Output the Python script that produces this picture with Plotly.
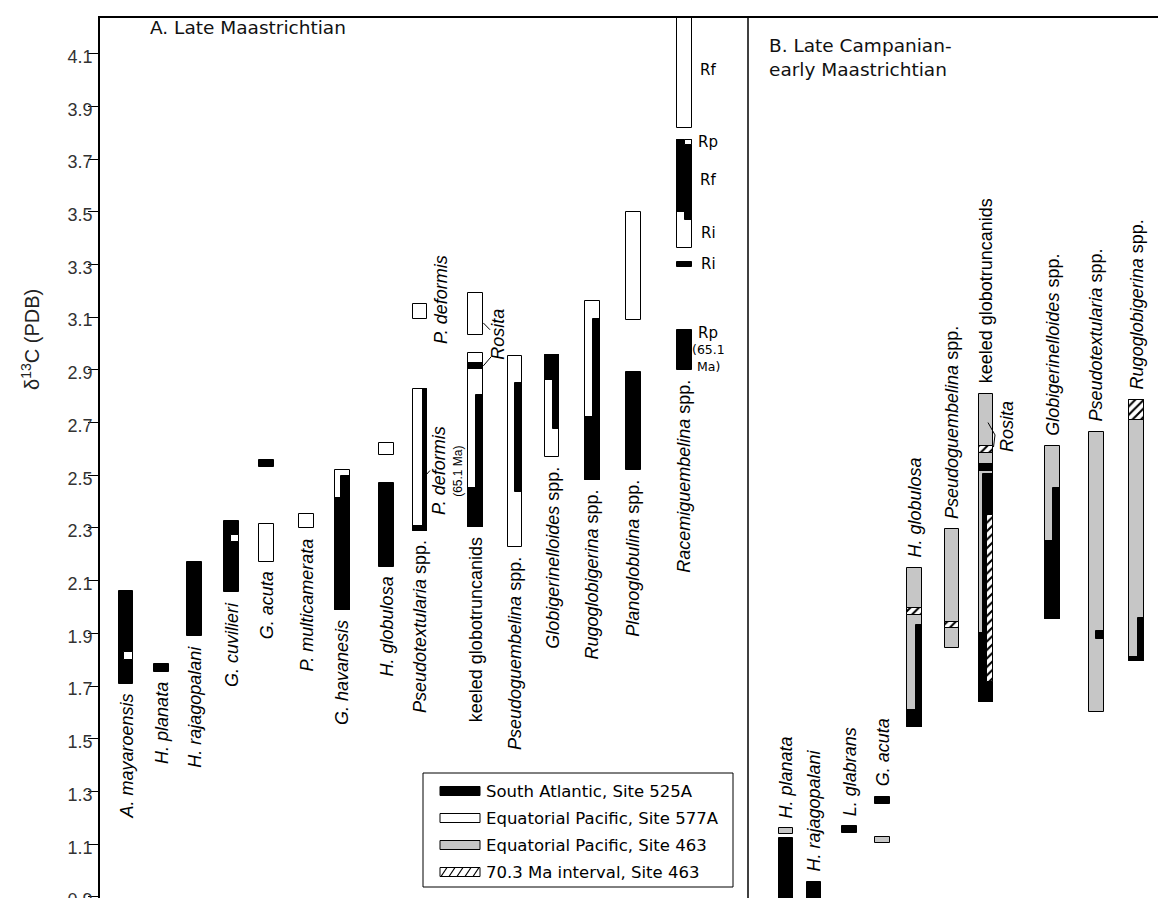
import plotly.graph_objects as go

# ---------------- data ----------------
# Panel A (Late Maastrichtian) taxa, left to right
taxa_A = ["<i>A. mayaroensis</i>", "<i>H. planata</i>", "<i>H. rajagopalani</i>", "<i>G. cuvilieri</i>",
          "<i>G. acuta</i>", "<i>P. multicamerata</i>", "<i>G. havanesis</i>", "<i>H. globulosa</i>",
          "<i>Pseudotextularia</i> spp.", "keeled globotruncanids", "<i>Pseudoguembelina</i> spp.",
          "<i>Globigerinelloides</i> spp.", "<i>Rugoglobigerina</i> spp.", "<i>Planoglobulina</i> spp.",
          "<i>Racemiguembelina</i> spp."]
# Panel B (Late Campanian - early Maastrichtian) taxa
taxa_B = ["<i>H. planata</i>", "<i>H. rajagopalani</i>", "<i>L. glabrans</i>", "<i>G. acuta</i>",
          "<i>H. globulosa</i>", "<i>Pseudoguembelina</i> spp.", "keeled globotruncanids",
          "<i>Globigerinelloides</i> spp.", "<i>Pseudotextularia</i> spp.", "<i>Rugoglobigerina</i> spp."]

# column slot positions along the horizontal
slot_A = [126, 161.3, 194.7, 231.3, 266.5, 306.7, 342.5, 386.7, 420, 475.5, 514.8, 552.2, 592.5, 633.3, 684.5]
slot_B = [786, 813.8, 849.7, 882.5, 914.7, 952.2, 986, 1052.7, 1096.3, 1136.5]

# d13C ranges: (panel, column, part, fraction, low, high, site)
# site: 525 = South Atlantic 525A, 577 = Eq. Pacific 577A, 463 = Eq. Pacific 463, 703 = 70.3 Ma interval 463
ranges_A = [
    ("A", 0, "full", 1, 1.708, 2.062, 525), ("A", 0, "right", 0.65, 1.800, 1.830, 577),
    ("A", 1, "full", 1, 1.755, 1.784, 525),
    ("A", 2, "full", 1, 1.890, 2.172, 525),
    ("A", 3, "full", 1, 2.056, 2.328, 525), ("A", 3, "right", 0.5, 2.246, 2.273, 577),
    ("A", 4, "full", 1, 2.530, 2.558, 525), ("A", 4, "full", 1, 2.172, 2.315, 577),
    ("A", 5, "full", 1, 2.299, 2.352, 577),
    ("A", 6, "full", 1, 1.989, 2.520, 577), ("A", 6, "right", 0.58, 1.989, 2.497, 525),
    ("A", 6, "full", 1, 1.989, 2.413, 525),
    ("A", 7, "full", 1, 2.153, 2.470, 525), ("A", 7, "full", 1, 2.577, 2.621, 577),
    ("A", 8, "full", 1, 2.290, 2.826, 577), ("A", 8, "right", 0.27, 2.290, 2.826, 525),
    ("A", 8, "full", 1, 2.290, 2.307, 525), ("A", 8, "full", 1, 3.092, 3.150, 577),
    ("A", 9, "full", 1, 3.032, 3.193, 577), ("A", 9, "full", 1, 2.303, 2.963, 577),
    ("A", 9, "full", 1, 2.902, 2.927, 525), ("A", 9, "right", 0.45, 2.303, 2.805, 525),
    ("A", 9, "full", 1, 2.303, 2.451, 525),
    ("A", 10, "full", 1, 2.229, 2.953, 577), ("A", 10, "right", 0.5, 2.438, 2.849, 525),
    ("A", 11, "full", 1, 2.571, 2.957, 577), ("A", 11, "right", 0.45, 2.675, 2.957, 525),
    ("A", 11, "full", 1, 2.862, 2.957, 525),
    ("A", 12, "full", 1, 2.482, 3.163, 577), ("A", 12, "right", 0.5, 2.482, 3.092, 525),
    ("A", 12, "full", 1, 2.482, 2.720, 525),
    ("A", 13, "full", 1, 3.089, 3.499, 577), ("A", 13, "full", 1, 2.520, 2.893, 525),
    ("A", 14, "full", 1, 2.900, 3.051, 525), ("A", 14, "full", 1, 3.290, 3.310, 525),
    ("A", 14, "full", 1, 3.361, 3.772, 577), ("A", 14, "full", 1, 3.500, 3.772, 525),
    ("A", 14, "right", 0.45, 3.469, 3.500, 525), ("A", 14, "right", 0.45, 3.755, 3.772, 577),
    ("A", 14, "full", 1, 3.819, 4.300, 577),
]
ranges_B = [
    ("B", 0, "full", 1, 1.138, 1.160, 463), ("B", 0, "full", 1, 0.850, 1.122, 525),
    ("B", 1, "full", 1, 0.850, 0.958, 525),
    ("B", 2, "full", 1, 1.144, 1.169, 525),
    ("B", 3, "full", 1, 1.252, 1.280, 525), ("B", 3, "full", 1, 1.103, 1.128, 463),
    ("B", 4, "full", 1, 1.546, 2.149, 463), ("B", 4, "full", 1, 1.970, 1.995, 703),
    ("B", 4, "right", 0.38, 1.546, 1.932, 525), ("B", 4, "full", 1, 1.546, 1.609, 525),
    ("B", 5, "full", 1, 1.843, 2.295, 463), ("B", 5, "full", 1, 1.919, 1.944, 703),
    ("B", 6, "full", 1, 1.641, 2.809, 463), ("B", 6, "full", 1, 2.586, 2.611, 703),
    ("B", 6, "full", 1, 2.518, 2.543, 525), ("B", 6, "right", 0.72, 1.641, 2.505, 525),
    ("B", 6, "full", 1, 1.641, 1.900, 525), ("B", 6, "right", 0.45, 1.717, 2.349, 703),
    ("B", 7, "full", 1, 1.953, 2.611, 463), ("B", 7, "right", 0.5, 1.953, 2.451, 525),
    ("B", 7, "full", 1, 1.953, 2.252, 525),
    ("B", 8, "full", 1, 1.603, 2.665, 463), ("B", 8, "right", 0.55, 1.879, 1.910, 525),
    ("B", 9, "full", 1, 1.796, 2.786, 463), ("B", 9, "full", 1, 2.710, 2.786, 703),
    ("B", 9, "right", 0.42, 1.796, 1.957, 525), ("B", 9, "full", 1, 1.796, 1.810, 525),
]

y_ticks = [0.9, 1.1, 1.3, 1.5, 1.7, 1.9, 2.1, 2.3, 2.5, 2.7, 2.9, 3.1, 3.3, 3.5, 3.7, 3.9, 4.1]
legend_labels = ["South Atlantic, Site 525A", "Equatorial Pacific, Site 577A",
                 "Equatorial Pacific, Site 463", "70.3 Ma interval, Site 463"]
racemi_labels = [("Rf", 4.037), ("Rp", 3.765), ("Rf", 3.620), ("Ri", 3.419), ("Ri", 3.300), ("Rp", 3.040)]

# ---------------- styling ----------------
W, H = 1158, 898
ML, MT = 100, 18
Y0, Y1 = 0.896, 4.235
BW = 14.5
LABEL_FONT = "Liberation Sans, Arial, sans-serif"
HEAD_FONT = "DejaVu Sans, Verdana, sans-serif"
GRAY = "#c6c6c6"
LBL = 18

fig = go.Figure()
slots = {"A": slot_A, "B": slot_B}

def bar_marker(site):
    line = dict(color="black", width=1)
    if site == 525:
        return dict(color="black", line=line)
    if site == 577:
        return dict(color="white", line=line)
    if site == 463:
        return dict(color=GRAY, line=line)
    return dict(color="white", line=line,
                pattern=dict(shape="/", fillmode="replace", fgcolor="black", bgcolor="white",
                             size=6, solidity=0.35))

for panel, col, part, frac, lo, hi, site in ranges_A + ranges_B:
    xc = slots[panel][col]
    w = BW * frac
    if part == "right":
        xc = xc + BW / 2 - w / 2
    elif part == "left":
        xc = xc - BW / 2 + w / 2
    fig.add_trace(go.Bar(x=[xc], y=[hi - lo], base=[lo], width=[w], marker=bar_marker(site),
                         showlegend=False, hoverinfo="skip"))

annotations = []
# taxon labels: panel A below the ranges, panel B above
for i, name in enumerate(taxa_A):
    low = min(r[4] for r in ranges_A if r[1] == i)
    annotations.append(dict(x=slot_A[i], y=low, xref="x", yref="y", text=name, textangle=-90,
                            showarrow=False, xanchor="center", yanchor="top", yshift=-8,
                            font=dict(family=LABEL_FONT, size=LBL, color="black")))
for i, name in enumerate(taxa_B):
    high = max(r[5] for r in ranges_B if r[1] == i)
    annotations.append(dict(x=slot_B[i], y=high, xref="x", yref="y", text=name, textangle=-90,
                            showarrow=False, xanchor="center", yanchor="bottom", yshift=8,
                            font=dict(family=LABEL_FONT, size=LBL, color="black")))

# extra labels
def txt(x, y, text, size=LBL, angle=-90, family=LABEL_FONT, **kw):
    d = dict(x=x, y=y, xref="x", yref="y", text=text, textangle=angle, showarrow=False,
             font=dict(family=family, size=size, color="black"))
    d.update(kw)
    annotations.append(d)

txt(441, 3.165, "<i>P. deformis</i>")
txt(439, 2.516, "<i>P. deformis</i>")
txt(458, 2.513, "(65.1 Ma)", size=12)
txt(498, 3.033, "<i>Rosita</i>")
txt(1007, 2.683, "<i>Rosita</i>")
for lab, yv in racemi_labels:
    txt(708, yv, lab, size=15, angle=0, family=HEAD_FONT)
txt(708, 2.976, "(65.1", size=12.5, angle=0, family=HEAD_FONT)
txt(708, 2.913, "Ma)", size=12.5, angle=0, family=HEAD_FONT)

# panel headings
annotations.append(dict(x=(148 - ML) / (W - ML), y=1 - (28 - MT) / (H - MT), xref="paper", yref="paper",
                        text="A. Late Maastrichtian", showarrow=False, xanchor="left", yanchor="middle",
                        font=dict(family=HEAD_FONT, size=18.5, color="#111")))
annotations.append(dict(x=(767 - ML) / (W - ML), y=1 - (58 - MT) / (H - MT), xref="paper", yref="paper",
                        text="B. Late Campanian-<br>early Maastrichtian", showarrow=False, xanchor="left",
                        yanchor="middle", align="left",
                        font=dict(family=HEAD_FONT, size=18.5, color="#111")))
# y-axis title
annotations.append(dict(x=(30 - ML) / (W - ML), y=1 - (340 - MT) / (H - MT), xref="paper", yref="paper",
                        text="δ<sup>13</sup>C (PDB)", textangle=-90, showarrow=False,
                        xanchor="center", yanchor="middle",
                        font=dict(family=LABEL_FONT, size=20, color="#222")))

# ---------------- legend (drawn in layout space) ----------------
def px_x(p):
    return (p - ML) / (W - ML)

def px_y(p):
    return 1 - (p - MT) / (H - MT)

shapes = []
shapes.append(dict(type="line", xref="x", yref="paper", x0=748, x1=748, y0=0, y1=1,
                   line=dict(color="black", width=1.5)))
shapes.append(dict(type="rect", xref="paper", yref="paper", x0=px_x(423), x1=px_x(733),
                   y0=px_y(887), y1=px_y(773), line=dict(color="black", width=1), fillcolor="white"))
row_y = [791, 818, 845, 872]
sw_fill = ["black", "white", GRAY, "white"]
for k, lab in enumerate(legend_labels):
    yc = row_y[k]
    shapes.append(dict(type="rect", xref="paper", yref="paper", x0=px_x(440), x1=px_x(480),
                       y0=px_y(yc + 4.5), y1=px_y(yc - 4.5), fillcolor=sw_fill[k],
                       line=dict(color="black", width=1)))
    annotations.append(dict(x=px_x(484), y=px_y(yc), xref="paper", yref="paper", text=lab,
                            showarrow=False, xanchor="left", yanchor="middle",
                            font=dict(family=HEAD_FONT, size=16.5, color="black")))
for j in range(5):
    x0 = 441 + j * 8
    shapes.append(dict(type="line", xref="paper", yref="paper", x0=px_x(x0), x1=px_x(x0 + 6),
                       y0=px_y(row_y[3] + 4.5), y1=px_y(row_y[3] - 4.5),
                       line=dict(color="black", width=1.2)))

# leader lines
def leader(pts):
    path = "M " + " L ".join(f"{x},{y}" for x, y in pts)
    shapes.append(dict(type="path", xref="x", yref="y", path=path, line=dict(color="black", width=1)))

leader([(483.3, 3.078), (490, 3.052)])
leader([(483.3, 2.915), (491, 2.949)])
leader([(424.5, 2.495), (430, 2.518)])
leader([(988, 2.700), (995, 2.653), (993.5, 2.607)])

fig.update_layout(
    width=W, height=H, margin=dict(l=ML, r=0, t=MT, b=0, autoexpand=False),
    paper_bgcolor="white", plot_bgcolor="white", barmode="overlay", bargap=0,
    showlegend=False, annotations=annotations, shapes=shapes,
    xaxis=dict(range=[ML, W], showline=True, side="top", linecolor="black", linewidth=1.5,
               showticklabels=False, ticks="", showgrid=False, zeroline=False, fixedrange=True,
               automargin=False),
    yaxis=dict(range=[Y0, Y1], tickvals=y_ticks, ticktext=[f"{v:.1f}" for v in y_ticks],
               showline=True, linecolor="black", linewidth=1.5, ticks="outside", ticklen=10,
               tickwidth=1, tickcolor="black", showgrid=False, zeroline=False,
               tickfont=dict(family=LABEL_FONT, size=18, color="#333"), ticklabelshift=3,
               ticklabelstandoff=-8, ticklabeloverflow="allow", fixedrange=True, automargin=False),
)

fig.write_html("out.html", config={"displayModeBar": False},
               post_script="document.body.style.margin='0px';document.body.style.overflow='hidden';")
